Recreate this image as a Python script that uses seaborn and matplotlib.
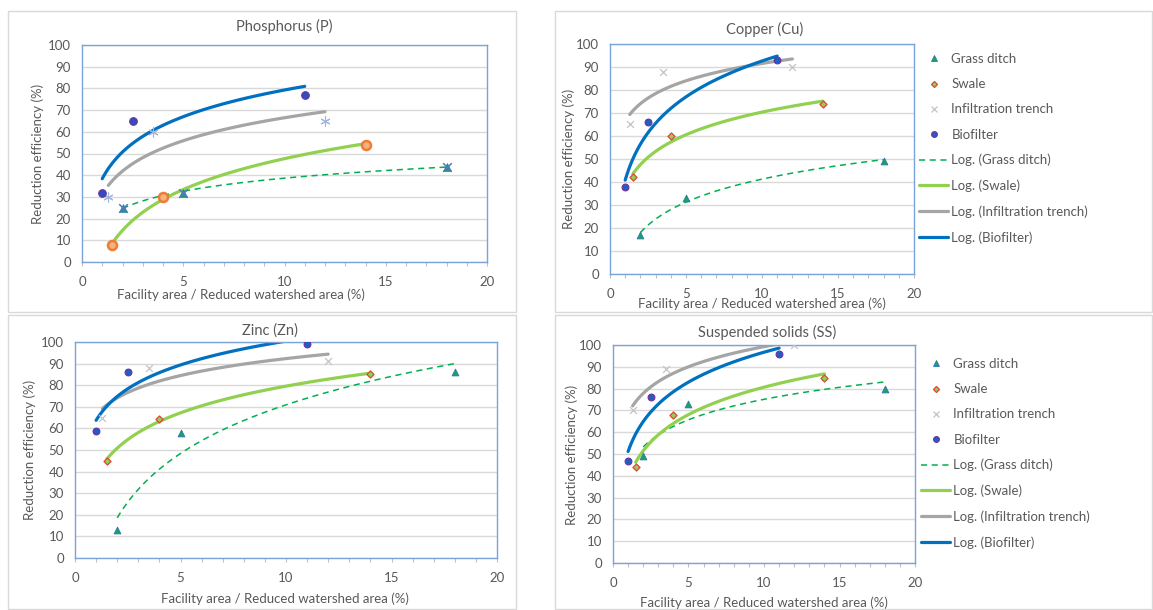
import numpy as np
import pandas as pd
import matplotlib
matplotlib.use("Agg")
import matplotlib.pyplot as plt
import seaborn as sns
from matplotlib.lines import Line2D
from matplotlib.patches import Rectangle
from matplotlib.ticker import MultipleLocator

# ---------------- data ----------------
series = ["Grass ditch", "Swale", "Infiltration trench", "Biofilter"]
x_grass = [2, 5, 18]
x_swale = [1.5, 4, 14]
x_infil = [1.3, 3.5, 12]
x_bio = [1, 2.5, 11]

titles = ["Phosphorus (P)", "Copper (Cu)", "Zinc (Zn)", "Suspended solids (SS)"]

p_grass = [25, 32, 44]
p_swale = [8, 30, 54]
p_infil = [30, 60, 65]
p_bio = [32, 65, 77]

cu_grass = [17, 33, 49]
cu_swale = [42, 60, 74]
cu_infil = [65, 88, 90]
cu_bio = [38, 66, 93]

zn_grass = [13, 58, 86]
zn_swale = [45, 64.5, 85]
zn_infil = [65, 88, 91]
zn_bio = [59, 86, 99]

ss_grass = [49, 73, 80]
ss_swale = [44, 68, 85]
ss_infil = [70, 89, 100]
ss_bio = [47, 76, 96]

x_ticks = [0, 5, 10, 15, 20]
y_ticks = [0, 10, 20, 30, 40, 50, 60, 70, 80, 90, 100]
xlabel = "Facility area / Reduced watershed area (%)"
ylabel = "Reduction efficiency (%)"

panel_y = [
    [p_grass, p_swale, p_infil, p_bio],
    [cu_grass, cu_swale, cu_infil, cu_bio],
    [zn_grass, zn_swale, zn_infil, zn_bio],
    [ss_grass, ss_swale, ss_infil, ss_bio],
]
xs = [x_grass, x_swale, x_infil, x_bio]

# ---------------- style ----------------
sns.set_theme(style="white")
plt.rcParams["font.family"] = ["Lato", "DejaVu Sans"]
TXT = "#595959"
SPINE = "#7aa3d8"
GRID = "#d9d9d9"

W, H = 1153, 610
fig = plt.figure(figsize=(W / 100, H / 100), dpi=100)


def fx(px):
    return px / W


def fy(py):
    return 1 - py / H


# panel frames (pixel boxes)
frames = [(8, 11, 516, 312), (555, 11, 1152, 312), (8, 315, 516, 609), (555, 315, 1152, 609)]
for (x0, y0, x1, y1) in frames:
    fig.add_artist(Rectangle((fx(x0), fy(y1)), fx(x1) - fx(x0), fy(y0) - fy(y1),
                             transform=fig.transFigure, fill=False, edgecolor=GRID, lw=1))

# axes boxes in pixels: left, top, right, bottom
ax_boxes = [(82, 45, 487, 262), (610, 44, 914, 274), (75, 342, 497, 558), (613, 345, 915, 563)]
title_pos = [(284, 26), (765, 29), (270, 331), (767, 332)]
xlab_pos = [(241, 295), (762, 304), (285, 599), (764, 603)]
ylab_pos = [(38, 154), (569, 159), (30, 450), (572, 455)]

line_styles = [
    dict(color="#00b050", lw=1.1, ls=(0, (4, 3))),
    dict(color="#92d050", lw=2.3, ls="-"),
    dict(color="#a5a5a5", lw=2.3, ls="-"),
    dict(color="#0070c0", lw=2.3, ls="-"),
]

marker_std = [
    dict(marker="^", s=24, color="#1aa35a", edgecolor="#2e75b6", linewidth=0.6),
    dict(marker="D", s=13, color="#92d050", edgecolor="#e0453a", linewidth=0.9),
    dict(marker="x", s=24, color="#c4c4c4", linewidth=0.9),
    dict(marker="o", s=24, color="#1f5fc0", edgecolor="#7030a0", linewidth=0.8),
]
marker_p = [
    dict(marker="^", s=30, color="#1aa35a", edgecolor="#2e75b6", linewidth=0.6),
    dict(marker="o", s=42, color="#f4b183", edgecolor="#ed7d31", linewidth=1.8),
    dict(marker=(6, 2, 0), s=45, color="#a3b6dd", linewidth=0.8),
    dict(marker="o", s=30, color="#2e4fc0", edgecolor="#7030a0", linewidth=0.8),
]

for i in range(4):
    l, t, r, b = ax_boxes[i]
    ax = fig.add_axes([fx(l), fy(b), fx(r) - fx(l), fy(t) - fy(b)])
    mstyles = marker_p if i == 0 else marker_std
    for k in range(4):
        df = pd.DataFrame({"x": xs[k], "y": panel_y[i][k]})
        sns.scatterplot(data=df, x="x", y="y", ax=ax, zorder=3, legend=False, **mstyles[k])
        if i == 0 and k == 0:
            sns.scatterplot(data=df, x="x", y="y", ax=ax, zorder=4, legend=False,
                            marker="x", s=38, color="#4a7ebb", linewidth=1.1)
        st = line_styles[k]
        sns.regplot(data=df, x="x", y="y", ax=ax, logx=True, ci=None, scatter=False,
                    truncate=True,
                    line_kws=dict(color=st["color"], lw=st["lw"], ls=st["ls"], zorder=2))
    ax.set_xlim(0, 20)
    ax.set_ylim(0, 100)
    ax.set_xticks(x_ticks)
    ax.set_yticks(y_ticks)
    ax.xaxis.set_minor_locator(MultipleLocator(1))
    ax.set_xlabel("")
    ax.set_ylabel("")
    ax.grid(axis="y", color=GRID, lw=1, zorder=0)
    ax.set_axisbelow(True)
    for sp in ax.spines.values():
        sp.set_color(SPINE)
        sp.set_linewidth(1.0)
    ax.tick_params(axis="x", which="major", length=3, width=0.8, color="#bfbfbf",
                   direction="out", pad=7, labelsize=9.5, labelcolor=TXT, bottom=True)
    ax.tick_params(axis="x", which="minor", length=3, width=0.8, color="#bfbfbf",
                   direction="out", bottom=True)
    ax.tick_params(axis="y", length=0, pad=8, labelsize=9.5, labelcolor=TXT)

    tx, ty = title_pos[i]
    fig.text(fx(tx), fy(ty), titles[i], ha="center", va="center", fontsize=10.5, color=TXT)
    lx, ly = xlab_pos[i]
    fig.text(fx(lx), fy(ly), xlabel, ha="center", va="center", fontsize=9.5, color=TXT)
    yx, yy = ylab_pos[i]
    fig.text(fx(yx), fy(yy), ylabel, ha="center", va="center", fontsize=9.5, color=TXT,
             rotation=90)

    if i in (1, 3):
        handles = []
        for k in range(4):
            m = marker_std[k]
            handles.append(Line2D([], [], ls="none", marker=m["marker"],
                                  markersize=np.sqrt(m["s"]) * 0.85,
                                  markerfacecolor=m["color"],
                                  markeredgecolor=m.get("edgecolor", m["color"]),
                                  markeredgewidth=m["linewidth"], label=series[k]))
        for k in range(4):
            st = line_styles[k]
            handles.append(Line2D([], [], color=st["color"], lw=st["lw"], ls=st["ls"],
                                  label="Log. (" + series[k] + ")"))
        top_px = 53 if i == 1 else 358
        left_px = 919 if i == 1 else 921
        leg = ax.legend(handles=handles, loc="upper left",
                        bbox_to_anchor=(fx(left_px), fy(top_px)),
                        bbox_transform=fig.transFigure, frameon=False, fontsize=9.5,
                        labelspacing=1.0, handlelength=2.2, handletextpad=0.25,
                        borderpad=0, borderaxespad=0)
        for txt in leg.get_texts():
            txt.set_color(TXT)

fig.savefig("out.png", dpi=100)
